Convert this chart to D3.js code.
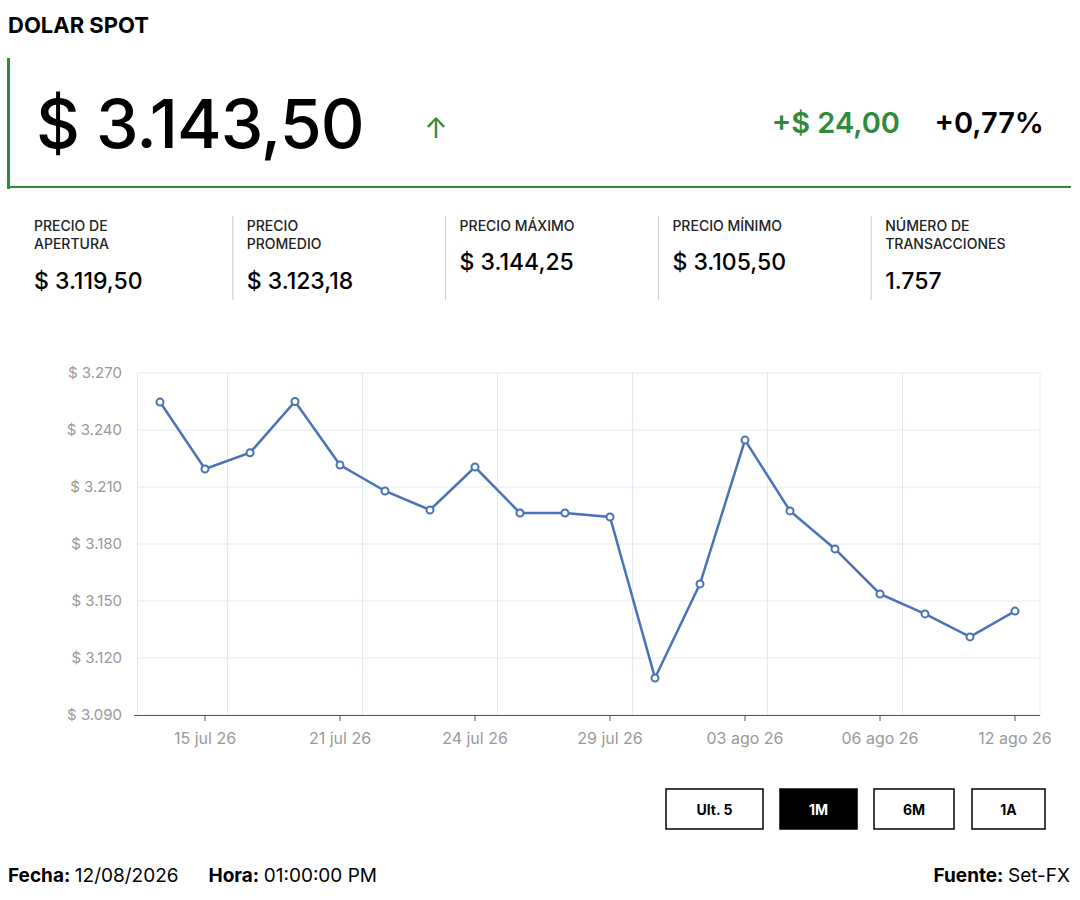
<!DOCTYPE html>
<html><head><meta charset="utf-8">
<script src="https://cdn.jsdelivr.net/npm/d3@7"></script>
<style>body{margin:0;background:#fff;font-family:Inter,"Open Sans",sans-serif}</style>
</head><body><div id="chart"></div>
<script>
const dates = ["14 jul 26","15 jul 26","16 jul 26","17 jul 26","21 jul 26","22 jul 26","23 jul 26","24 jul 26","27 jul 26","28 jul 26","29 jul 26","30 jul 26","31 jul 26","03 ago 26","04 ago 26","05 ago 26","06 ago 26","10 ago 26","11 ago 26","12 ago 26"]
const prices = [3254.7,3219.5,3228,3255,3221.6,3207.9,3197.9,3220.5,3196.3,3196.3,3194.2,3109.5,3159,3234.7,3197.4,3177.4,3153.7,3143.2,3131.1,3144.7]
const tickDates = ["15 jul 26","21 jul 26","24 jul 26","29 jul 26","03 ago 26","06 ago 26","12 ago 26"]
const yTicks = [3090,3120,3150,3180,3210,3240,3270]
const stats = [["PRECIO DE","APERTURA","$ 3.119,50"],["PRECIO","PROMEDIO","$ 3.123,18"],["PRECIO MÁXIMO","","$ 3.144,25"],["PRECIO MÍNIMO","","$ 3.105,50"],["NÚMERO DE","TRANSACCIONES","1.757"]]
const buttons = ["Ult. 5","1M","6M","1A"]

const svg = d3.select("#chart").append("svg").attr("width",1080).attr("height",900)
const green = "#2e8b3a"

svg.append("text").attr("x",8).attr("y",33).attr("font-size",22).attr("font-weight",700).text("DOLAR SPOT")
svg.append("rect").attr("x",7).attr("y",58).attr("width",3).attr("height",131).attr("fill",green)
svg.append("rect").attr("x",7).attr("y",186).attr("width",1064).attr("height",2).attr("fill",green)
svg.append("text").attr("x",36).attr("y",148).attr("font-size",68).attr("font-weight",500).attr("letter-spacing",-1).text("$ 3.143,50")
svg.append("text").attr("x",436).attr("y",138).attr("font-size",28).attr("fill",green).attr("text-anchor","middle").text("↑")
svg.append("text").attr("x",900).attr("y",133).attr("font-size",29).attr("font-weight",600).attr("fill",green).attr("text-anchor","end").text("+$ 24,00")
svg.append("text").attr("x",1044).attr("y",133).attr("font-size",29).attr("font-weight",600).attr("text-anchor","end").text("+0,77%")

stats.forEach((s,i) => {
  const x = 34 + i*212.8
  const g = svg.append("g")
  g.append("text").attr("x",x).attr("y",231).attr("font-size",14).attr("font-weight",500).attr("fill","#222").text(s[0])
  g.append("text").attr("x",x).attr("y",249).attr("font-size",14).attr("font-weight",500).attr("fill","#222").text(s[1])
  g.append("text").attr("x",x).attr("y",s[1] ? 289 : 270).attr("font-size",23).attr("font-weight",500).text(s[2])
  if (i > 0) g.append("line").attr("x1",x-14).attr("x2",x-14).attr("y1",216).attr("y2",300).attr("stroke","#ccc")
})

// chart
const x = d3.scaleBand().domain(dates).range([137.5,1037.5]).padding(0)
const y = d3.scaleLinear().domain([3090,3270]).range([715,373])
const cx = d => x(d) + x.bandwidth()/2
const plot = svg.append("g")

plot.selectAll(".hg").data(yTicks).join("line")
  .attr("x1",137).attr("x2",1040).attr("y1",d=>y(d)).attr("y2",d=>y(d)).attr("stroke","#e3e9f2")
const vIdx = [0,2,5,8,11,14,17]
plot.selectAll(".vg").data(vIdx).join("line")
  .attr("x1",i=>x(dates[i])).attr("x2",i=>x(dates[i])).attr("y1",373).attr("y2",715).attr("stroke","#e3e9f2")
plot.append("line").attr("x1",1040).attr("x2",1040).attr("y1",373).attr("y2",715).attr("stroke","#e3e9f2")

plot.selectAll(".yl").data(yTicks).join("text")
  .attr("x",122).attr("y",d=>y(d)+5).attr("text-anchor","end").attr("font-size",15).attr("fill","#999").text(d=>"$ "+d3.format(",")(d).replace(",","."))

const xAxis = plot.append("g").attr("transform","translate(0,715)")
  .call(d3.axisBottom(x).tickValues(tickDates).tickSize(6).tickSizeOuter(0))
xAxis.select(".domain").attr("stroke","#555").attr("d","M134,0.5H1040")
xAxis.selectAll(".tick line").attr("stroke","#555")
xAxis.selectAll(".tick text").attr("font-size",16).attr("fill","#999").attr("dy","1.25em").attr("font-family","Inter,sans-serif")

const line = d3.line().x((d,i)=>cx(dates[i])).y(d=>y(d))
plot.append("path").datum(prices).attr("d",line).attr("fill","none").attr("stroke","#4a72b8").attr("stroke-width",2.5)
plot.selectAll(".pt").data(prices).join("circle")
  .attr("cx",(d,i)=>cx(dates[i])).attr("cy",d=>y(d)).attr("r",3.5).attr("fill","#fff").attr("stroke","#4a72b8").attr("stroke-width",2)

// buttons
const bx = [666,780,874,972], bw = [97,77,80,73]
buttons.forEach((b,i) => {
  const on = b === "1M"
  svg.append("rect").attr("x",bx[i]).attr("y",789).attr("width",bw[i]).attr("height",40)
    .attr("fill",on?"#000":"#fff").attr("stroke","#000").attr("stroke-width",1.5)
  svg.append("text").attr("x",bx[i]+bw[i]/2).attr("y",815).attr("text-anchor","middle").attr("font-size",14).attr("font-weight",700)
    .attr("fill",on?"#fff":"#000").text(b)
})

const f = svg.append("text").attr("x",8).attr("y",882).attr("font-size",19)
f.append("tspan").attr("font-weight",700).text("Fecha: ")
f.append("tspan").text("12/08/2026")
f.append("tspan").attr("dx",30).attr("font-weight",700).text("Hora: ")
f.append("tspan").text("01:00:00 PM")
const r = svg.append("text").attr("x",1070).attr("y",882).attr("font-size",19).attr("text-anchor","end")
r.append("tspan").attr("font-weight",700).text("Fuente: ")
r.append("tspan").text("Set-FX")
</script></body></html>
